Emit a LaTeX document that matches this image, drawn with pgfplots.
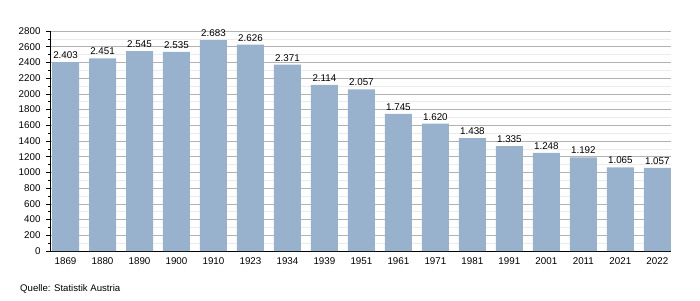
\documentclass[border=0pt]{standalone}
\usepackage{pgfplots}
\pgfplotsset{compat=1.18}
\usepackage{fontspec}
\setmainfont{Liberation Sans}
\definecolor{barblue}{RGB}{152,178,205}
\begin{document}
\begin{tikzpicture}
\useasboundingbox (-50pt,-49pt) rectangle (650pt,251pt);
\begin{axis}[
  scale only axis,
  width=621pt, height=220pt,
  xmin=-0.42, xmax=16.37,
  ymin=0, ymax=2800,
  ytick distance=200,
  minor y tick num=1,
  xtick={0,...,16},
  xticklabels={1869,1880,1890,1900,1910,1923,1934,1939,1951,1961,1971,1981,1991,2001,2011,2021,2022},
  axis lines*=left,
  axis line style={-, black, line width=0.8pt},
  tick align=outside,
  major x tick style={draw=none},
  major tick length=4pt,
  minor tick length=2pt,
  y tick style={black, line width=0.6pt},
  ymajorgrids, yminorgrids,
  major grid style={color=black!30, line width=0.6pt},
  minor grid style={color=black!8, line width=0.5pt},
  tick label style={font=\fontsize{9.8}{11}\selectfont},
  /pgf/number format/assume math mode=true,
  yticklabel style={/pgf/number format/1000 sep={}, xshift=-2pt},
  xticklabel style={yshift=1pt},
  ybar, bar width=27pt,
  nodes near coords={\pgfmathprintnumber[assume math mode=true,1000 sep={.}]{\pgfplotspointmeta}},
  every node near coord/.append style={font=\fontsize{9.8}{11}\selectfont, black, yshift=0pt},
  clip=false,
]
\addplot[fill=barblue, draw=none] coordinates {
(0,2403) (1,2451) (2,2545) (3,2535) (4,2683) (5,2626) (6,2371) (7,2114)
(8,2057) (9,1745) (10,1620) (11,1438) (12,1335) (13,1248) (14,1192) (15,1065) (16,1057)};
\end{axis}
\node[anchor=west, font=\fontsize{9.6}{11}\selectfont, inner sep=0pt] at (-30pt,-38pt) {Quelle: Statistik Austria};
\end{tikzpicture}
\end{document}
